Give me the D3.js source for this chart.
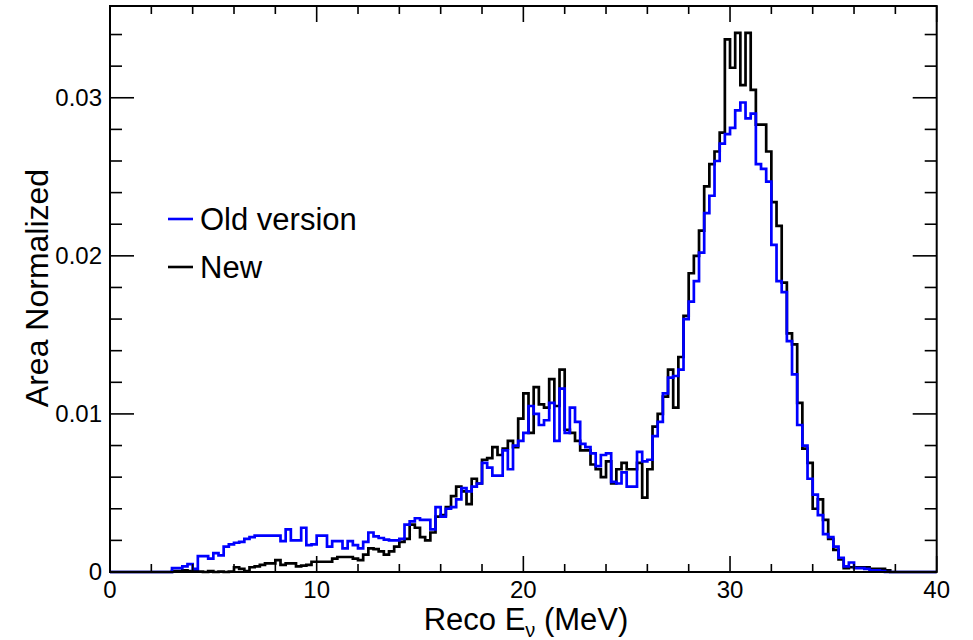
<!DOCTYPE html>
<html>
<head>
<meta charset="utf-8">
<script src="https://cdn.jsdelivr.net/npm/d3@7"></script>
<style>
  body { margin: 0; background: #ffffff; }
  svg { display: block; }
  text { font-family: "Liberation Sans", Arial, Helvetica, sans-serif; fill: #000; }
</style>
</head>
<body>
<svg id="chart" width="973" height="640"></svg>
<script>
// Reconstructed neutrino energy, 160 bins of 0.25 MeV from 0 to 40 MeV
const energyRange = [0, 40];
const binWidth = 0.25;

// Area-normalised bin contents, old reconstruction
const oldVersion = [
  0, 0, 0, 0, 0, 0, 0, 0, 0, 0, 0, 0,
  0.00025, 0.00025, 0.00035, 0.00050, 0.00020, 0.00100, 0.00100, 0.00085, 0.00120, 0.00105,
  0.00160, 0.00175, 0.00185, 0.00190, 0.00210, 0.00220, 0.00230, 0.00230, 0.00230, 0.00230,
  0.00230, 0.00195, 0.00270, 0.00200, 0.00200, 0.00280, 0.00170, 0.00175, 0.00230, 0.00230,
  0.00160, 0.00195, 0.00195, 0.00150, 0.00195, 0.00170, 0.00150, 0.00190, 0.00250, 0.00225,
  0.00215, 0.00205, 0.00200, 0.00200, 0.00210, 0.00300, 0.00320, 0.00340, 0.00330, 0.00330,
  0.00270, 0.00410, 0.00350, 0.00400, 0.00410, 0.00460, 0.00530, 0.00510, 0.00540, 0.00560,
  0.00690, 0.00660, 0.00610, 0.00610, 0.00770, 0.00650, 0.00800, 0.00830, 0.00880, 0.01050,
  0.01000, 0.00930, 0.00960, 0.01070, 0.00830, 0.01160, 0.00880, 0.01040, 0.00950, 0.00810,
  0.00790, 0.00750, 0.00670, 0.00740, 0.00750, 0.00570, 0.00560, 0.00630, 0.00540, 0.00540,
  0.00760, 0.00700, 0.00710, 0.00860, 0.00950, 0.01130, 0.01230, 0.01240, 0.01280, 0.01600,
  0.01710, 0.01840, 0.02020, 0.02270, 0.02380, 0.02600, 0.02710, 0.02770, 0.02810, 0.02920,
  0.02970, 0.02870, 0.02900, 0.02580, 0.02550, 0.02470, 0.02070, 0.01840, 0.01770, 0.01460,
  0.01250, 0.00930, 0.00800, 0.00590, 0.00490, 0.00360, 0.00240, 0.00220, 0.00160, 0.00090,
  0.00035, 0.00060, 0.00025, 0.00025, 0.00020, 0.00010, 0.00010, 0.00005, 0, 0,
  0, 0, 0, 0, 0, 0, 0, 0
];

// Area-normalised bin contents, new reconstruction
const newVersion = [
  0, 0, 0, 0, 0, 0, 0, 0, 0, 0, 0, 0,
  0.00005, 0.00005, 0.00010, 0.00005, 0.00005, 0.00003, 0, 0.00005, 0, 0.00003,
  0, 0.00003, 0.00030, 0.00020, 0.00005, 0.00030, 0.00035, 0.00045, 0.00055, 0.00055,
  0.00075, 0.00045, 0.00055, 0.00055, 0.00035, 0.00040, 0.00045, 0.00065, 0.00065, 0.00065,
  0.00065, 0.00085, 0.00095, 0.00095, 0.00095, 0.00085, 0.00075, 0.00110, 0.00150, 0.00145,
  0.00130, 0.00110, 0.00130, 0.00160, 0.00190, 0.00210, 0.00300, 0.00280, 0.00220, 0.00200,
  0.00250, 0.00350, 0.00360, 0.00410, 0.00480, 0.00540, 0.00510, 0.00430, 0.00590, 0.00560,
  0.00710, 0.00720, 0.00790, 0.00740, 0.00780, 0.00830, 0.00790, 0.00970, 0.01130, 0.00880,
  0.01170, 0.01060, 0.01040, 0.01220, 0.01050, 0.01280, 0.00900, 0.00880, 0.00830, 0.00770,
  0.00770, 0.00680, 0.00650, 0.00600, 0.00700, 0.00560, 0.00650, 0.00690, 0.00650, 0.00650,
  0.00690, 0.00470, 0.00650, 0.00920, 0.01000, 0.01110, 0.01280, 0.01040, 0.01360, 0.01620,
  0.01890, 0.02000, 0.02160, 0.02440, 0.02580, 0.02660, 0.02780, 0.03370, 0.03190, 0.03410,
  0.03080, 0.03410, 0.03050, 0.02830, 0.02830, 0.02660, 0.02340, 0.02190, 0.01830, 0.01510,
  0.01440, 0.01070, 0.00780, 0.00690, 0.00400, 0.00460, 0.00330, 0.00210, 0.00140, 0.00080,
  0.00025, 0.00030, 0.00030, 0.00030, 0.00030, 0.00020, 0.00020, 0.00020, 0.00010, 0,
  0, 0, 0, 0, 0, 0, 0, 0
];

// Axis ticks and labels
const xMajorTicks = [0, 10, 20, 30, 40];
const xTickLabels = ["0", "10", "20", "30", "40"];
const xMinorStep = 2;
const yMajorTicks = [0, 0.01, 0.02, 0.03];
const yTickLabels = ["0", "0.01", "0.02", "0.03"];
const yMinorStep = 0.002;

// Legend entries, in drawing order of the legend box
const seriesNames = ["Old version", "New"];
const seriesColors = ["#0000ff", "#000000"];

const svg = d3.select("#chart");
const frame = { left: 110, right: 936.7, top: 6, bottom: 572 };

const yMax = 1.05 * d3.max([...oldVersion, ...newVersion]);
const x = d3.scaleLinear().domain(energyRange).range([frame.left, frame.right]);
const y = d3.scaleLinear().domain([0, yMax]).range([frame.bottom, frame.top]);

// Step outline of a histogram: each bin starts at its low edge, closed at the upper range
function histPoints(values) {
  const pts = values.map((v, i) => [i * binWidth, v]);
  pts.push([values.length * binWidth, values[values.length - 1]]);
  return pts;
}
const stepLine = d3.line()
  .x(d => x(d[0]))
  .y(d => y(d[1]))
  .curve(d3.curveStepAfter);

const plot = svg.append("g");

// New histogram underneath, old one drawn on top
[[newVersion, seriesColors[1]], [oldVersion, seriesColors[0]]].forEach(([vals, col]) => {
  plot.append("path")
    .attr("d", stepLine(histPoints(vals)))
    .attr("fill", "none")
    .attr("stroke", col)
    .attr("stroke-width", 2.7)
    .attr("stroke-linejoin", "miter");
});

// Frame
svg.append("rect")
  .attr("x", frame.left).attr("y", frame.top)
  .attr("width", frame.right - frame.left).attr("height", frame.bottom - frame.top)
  .attr("fill", "none").attr("stroke", "#000").attr("stroke-width", 2);

// Ticks on all four sides
const ticks = svg.append("g").attr("stroke", "#000").attr("stroke-width", 1.6);
const xMajLen = 16, xMinLen = 8, yMajLen = 24, yMinLen = 12;
const xMinors = d3.range(energyRange[0], energyRange[1] + 1e-9, xMinorStep);
xMinors.forEach(v => {
  const major = xMajorTicks.includes(v);
  const len = major ? xMajLen : xMinLen;
  ticks.append("line").attr("x1", x(v)).attr("x2", x(v))
    .attr("y1", frame.bottom).attr("y2", frame.bottom - len);
  ticks.append("line").attr("x1", x(v)).attr("x2", x(v))
    .attr("y1", frame.top).attr("y2", frame.top + len);
});
const yMinors = d3.range(0, yMax, yMinorStep);
yMinors.forEach(v => {
  const major = yMajorTicks.some(t => Math.abs(t - v) < 1e-9);
  const len = major ? yMajLen : yMinLen;
  ticks.append("line").attr("x1", frame.left).attr("x2", frame.left + len)
    .attr("y1", y(v)).attr("y2", y(v));
  ticks.append("line").attr("x1", frame.right).attr("x2", frame.right - len)
    .attr("y1", y(v)).attr("y2", y(v));
});

// Tick labels
svg.append("g").selectAll("text").data(xMajorTicks).join("text")
  .attr("x", d => x(d)).attr("y", frame.bottom + 26)
  .attr("text-anchor", "middle")
  .attr("font-size", 24)
  .text((d, i) => xTickLabels[i]);

svg.append("g").selectAll("text").data(yMajorTicks).join("text")
  .attr("x", frame.left - 8).attr("y", d => y(d) + 8)
  .attr("text-anchor", "end")
  .attr("font-size", 24)
  .text((d, i) => yTickLabels[i]);

// Axis titles
const xTitle = svg.append("text")
  .attr("x", 526).attr("y", 630)
  .attr("text-anchor", "middle")
  .attr("font-size", 31);
xTitle.append("tspan").text("Reco E");
xTitle.append("tspan").attr("font-size", 20).attr("dy", 7).text("ν");
xTitle.append("tspan").attr("dy", -7).text(" (MeV)");

svg.append("text")
  .attr("transform", "translate(48,288) rotate(-90)")
  .attr("text-anchor", "middle")
  .attr("font-size", 32)
  .text("Area Normalized");

// Legend
const legend = svg.append("g");
const legendRows = [219, 267];
seriesNames.forEach((name, i) => {
  legend.append("line")
    .attr("x1", 168).attr("x2", 193)
    .attr("y1", legendRows[i]).attr("y2", legendRows[i])
    .attr("stroke", seriesColors[i]).attr("stroke-width", 2.6);
  legend.append("text")
    .attr("x", 200).attr("y", legendRows[i] + 11)
    .attr("font-size", 31)
    .text(name);
});
</script>
</body>
</html>
